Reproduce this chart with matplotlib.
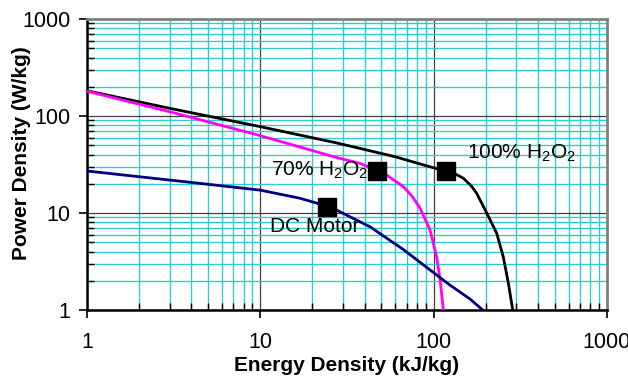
import matplotlib
matplotlib.use('Agg')
import matplotlib.pyplot as plt
from matplotlib.ticker import LogLocator, FixedLocator, NullFormatter

plt.rcParams['font.family'] = ['Liberation Sans', 'DejaVu Sans']
plt.rcParams['mathtext.default'] = 'regular'

# curves (energy kJ/kg, power W/kg)
h2o2_100_x = [1, 3, 10, 27.3, 60, 95, 118, 135, 148.5, 165, 177, 203, 231, 252, 270, 286]
h2o2_100_y = [182, 120, 77.6, 53, 38, 30, 27, 25, 22.8, 19, 16, 9.9, 6.2, 3.55, 1.88, 1]

h2o2_70_x = [1, 3, 10, 27.3, 37.6, 45, 53.6, 66.9, 76, 83.5, 95.3, 104, 109, 113.8]
h2o2_70_y = [180, 110.7, 62.7, 37.5, 32.5, 28.5, 24.6, 18.7, 14.5, 11.2, 6.7, 3.55, 2.04, 1]

dc_motor_x = [1, 4.49, 10, 16.9, 22, 27.6, 43, 66.9, 104, 124, 162, 192]
dc_motor_y = [27.1, 20.2, 17.2, 14.2, 12.4, 10.7, 7.2, 4.2, 2.3, 1.81, 1.3, 1]

# design points (markers)
point_x = [118, 47, 24.4]
point_y = [27, 27, 11.6]

labels = ['100% H$_2$O$_2$', '70% H$_2$O$_2$', 'DC Motor']
label_x = [155, 42, 11.3]
label_y = [41.6, 27.5, 7.3]
label_ha = ['left', 'right', 'left']

fig = plt.figure(figsize=(6.28, 3.76), dpi=100)
ax = fig.add_axes([0.1385, 0.1755, 0.828, 0.774])

ax.plot(h2o2_100_x, h2o2_100_y, color='black', lw=2, zorder=3)
ax.plot(h2o2_70_x, h2o2_70_y, color='#FF00FF', lw=2, zorder=3)
ax.plot(dc_motor_x, dc_motor_y, color='#000080', lw=2, zorder=3)
ax.plot(point_x, point_y, 's', color='black', ms=13, zorder=4)

for t, x, y, ha in zip(labels, label_x, label_y, label_ha):
    ax.text(x, y, t, ha=ha, va='center', fontsize=15, zorder=5)

ax.set_xscale('log')
ax.set_yscale('log')
ax.set_xlim(1, 1000)
ax.set_ylim(1, 1000)

ax.xaxis.set_major_locator(FixedLocator([1, 10, 100, 1000]))
ax.yaxis.set_major_locator(FixedLocator([1, 10, 100, 1000]))
ax.set_xticklabels(['1', '10', '100', '1000'])
ax.set_yticklabels(['1', '10', '100', '1000'])
ax.xaxis.set_minor_locator(LogLocator(base=10, subs=range(2, 10)))
ax.yaxis.set_minor_locator(LogLocator(base=10, subs=range(2, 10)))
ax.xaxis.set_minor_formatter(NullFormatter())
ax.yaxis.set_minor_formatter(NullFormatter())

ax.grid(which='minor', color='#33CCCC', lw=1.0, zorder=0)
ax.grid(which='major', color='#404040', lw=0.9, zorder=1)
ax.set_axisbelow(True)

ax.tick_params(which='major', direction='out', length=6, width=1.2, labelsize=15.5)
ax.tick_params(axis='x', which='major', pad=10)
ax.tick_params(axis='y', which='major', pad=6)
ax.tick_params(which='minor', direction='in', length=5, width=1.0)

for s in ['left', 'bottom']:
    ax.spines[s].set_color('black')
    ax.spines[s].set_linewidth(1.8)
for s in ['top', 'right']:
    ax.spines[s].set_color('#808080')
    ax.spines[s].set_linewidth(2.0)

ax.set_xlabel('Energy Density (kJ/kg)', fontsize=15, fontweight='bold', labelpad=2)
ax.set_ylabel('Power Density (W/kg)', fontsize=15, fontweight='bold', va='center')
ax.yaxis.set_label_coords(-0.125, 0.54)

fig.savefig('out.png', dpi=100)
